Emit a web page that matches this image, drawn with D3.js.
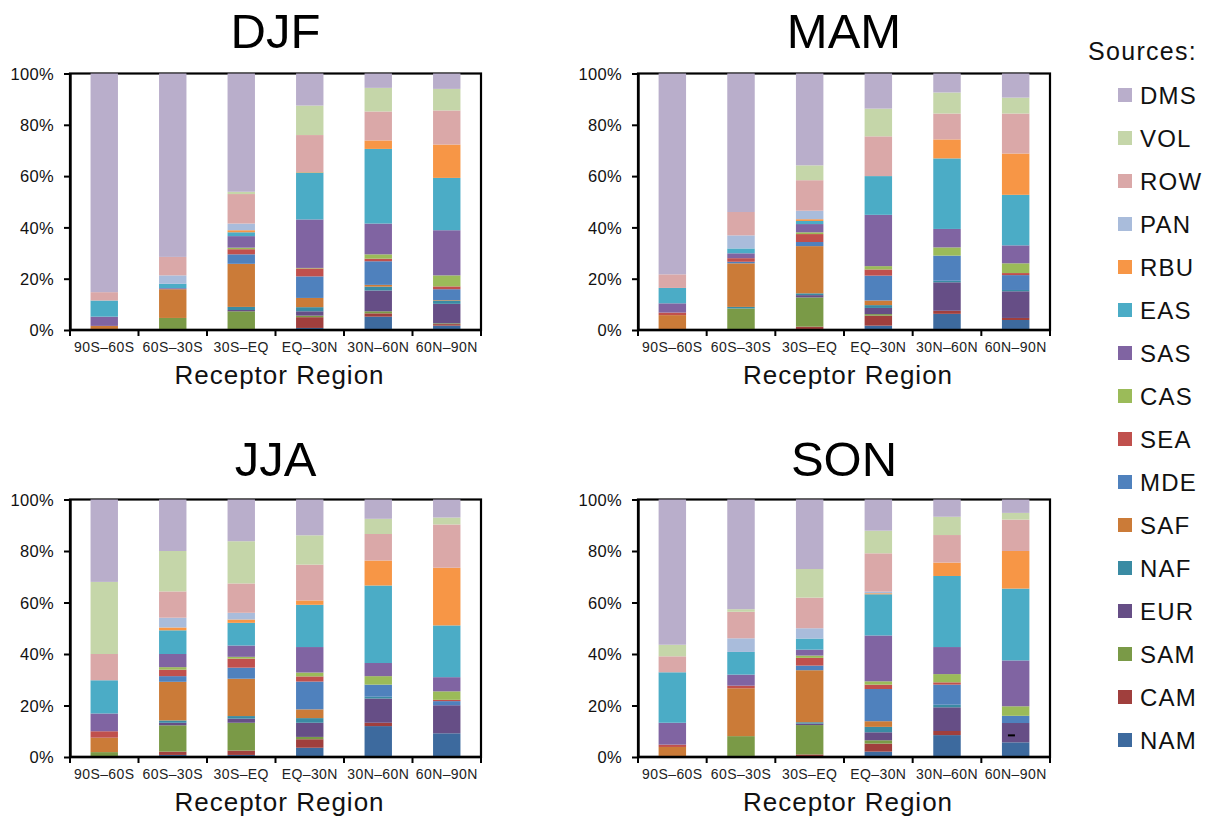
<!DOCTYPE html>
<html><head><meta charset="utf-8">
<script src="https://cdn.jsdelivr.net/npm/d3@7/dist/d3.min.js"></script>
<style>body{margin:0;background:#fff}svg{display:block;font-family:"Liberation Sans",Arial,Helvetica,sans-serif}</style>
</head><body><svg id="c" width="1211" height="823"></svg>
<script>
// Receptor regions (x categories)
const regions = ["90S–60S","60S–30S","30S–EQ","EQ–30N","30N–60N","60N–90N"];
// Source regions, bottom of stack to top
const sources = ["NAM","CAM","SAM","EUR","NAF","SAF","MDE","SEA","CAS","SAS","EAS","RBU","PAN","ROW","VOL","DMS"];
const sourceColors = ["#3d6a9e","#a03f3d","#7a9a47","#664e86","#3a8ba3","#cb7b38","#4f81bd","#c0504d","#9bbb59","#8064a2","#4bacc6","#f79646","#a9bcdb","#daa8a8","#c5d6a9","#b9aecb"];
const yTicks = [0,20,40,60,80,100];

// Percent contributions, one row per receptor region, columns in `sources` order
const DJF = [
  [0,0,0,0,0,1.6,0,0,0,3.6,6.3,0,0,3.25,0,85.25],
  [0,0,4.7,0,0,11.2,0,0,0,0.4,1.7,0,3.3,7.2,0,71.5],
  [0,0,7.3,0.5,1.2,16.8,3.7,2.0,0.6,4.5,1.5,0.8,2.6,11.5,0.9,46.1],
  [0.8,4.2,0.6,1.7,1.6,3.6,8.4,3.1,0.2,18.9,18.3,0.2,0,14.4,11.5,12.5],
  [5.2,1.3,0.8,8.1,1.5,0.7,9.2,1.0,1.7,12.0,29.1,3.3,0,11.3,9.2,5.6],
  [1.7,0.6,0.3,7.6,1.3,0.2,4.2,1.1,4.3,17.6,20.4,13.0,0,13.3,8.4,6.0]
];
const MAM = [
  [0,0,0,0,0,5.8,0,1.0,0,3.6,6.0,0,0,5.3,0,78.3],
  [0,0,8.4,0,0.6,17.0,0.6,1.4,0,1.9,1.9,0,5.1,9.1,0,54.0],
  [0,1.3,11.4,0.9,0.7,18.4,1.6,3.1,0.7,3.2,1.2,0.7,3.3,11.9,5.8,35.8],
  [1.7,3.9,0.6,2.4,1.1,1.8,9.7,2.4,1.3,20.0,15.1,0,0,15.5,10.8,13.7],
  [6.3,1.2,0,11.1,0.6,0,9.8,0,3.2,7.2,27.5,7.4,0,10.1,8.2,7.4],
  [3.9,0.8,0,10.4,0.5,0,5.8,0.8,3.8,7.0,19.7,16.1,0,15.6,6.2,9.4]
];
const JJA = [
  [0,0,1.9,0,0,5.6,0,2.5,0,6.9,12.9,0,0,10.2,28.0,32.0],
  [0.8,1.3,10.2,1.0,0.9,15.0,2.2,2.5,1.0,5.1,9.2,1.1,3.8,10.2,15.7,20.0],
  [0.8,1.7,10.8,1.6,1.0,14.5,4.3,3.5,0.7,4.4,8.8,1.3,2.6,11.4,16.4,16.2],
  [3.6,3.3,0.9,5.5,1.8,3.4,10.8,2.0,1.5,9.9,16.4,1.7,0,13.9,11.4,13.9],
  [12.0,1.3,0,9.4,0.7,0,4.7,0,3.3,5.1,30.1,9.7,0,10.3,5.9,7.5],
  [9.2,0,0,10.9,0,0,1.6,0.5,3.3,5.5,20.1,22.4,0,16.8,2.7,7.0]
];
const SON = [
  [0,0,0,0,0,3.9,0,0.9,0,8.5,19.6,0,0,6.2,4.5,56.4],
  [0,0,8.1,0,0,18.6,0,1.0,0,4.3,8.8,0,5.3,10.3,1.0,42.6],
  [0,1.0,11.4,0.6,0.5,20.2,1.8,3.0,0.9,2.3,4.3,0,4.0,11.9,11.1,27.0],
  [2.1,3.1,1.3,3.1,2.1,2.2,12.5,1.7,1.3,17.8,16.0,0.4,0.6,14.9,8.8,12.1],
  [8.5,1.6,0,9.2,1.0,0,7.8,0.9,3.2,10.5,27.6,5.2,0,10.7,7.1,6.7],
  [5.7,0,0,7.5,0,0,2.8,0,3.7,17.8,27.9,14.6,0,12.2,2.6,5.2]
];
// stray dash visible in the original SON panel (value in %)
const sonDash = {region:"60N–90N", value:8.4};

const panels = [
  {name:"DJF", rows:DJF, x0:70,  x1:481,  y0:73.5, y1:330, titleY:48},
  {name:"MAM", rows:MAM, x0:638, x1:1050, y0:73.5, y1:330, titleY:48},
  {name:"JJA", rows:JJA, x0:70,  x1:481,  y0:499.5, y1:757, titleY:476},
  {name:"SON", rows:SON, x0:638, x1:1050, y0:499.5, y1:757, titleY:476}
];

const svg = d3.select("#c");
const color = d3.scaleOrdinal(sources, sourceColors);
const stack = d3.stack().keys(sources);

panels.forEach(p => {
  const g = svg.append("g");
  const x = d3.scaleBand(regions, [p.x0, p.x1]).padding(0);
  const y = d3.scaleLinear([0,100], [p.y1, p.y0]);
  const barW = x.bandwidth()*0.4;
  const table = p.rows.map((r,i) => { const o = {region: regions[i]}; sources.forEach((s,j)=>o[s]=r[j]); return o; });
  const series = stack(table);

  // frame (top & right)
  g.append("rect").attr("x",p.x0).attr("y",p.y0).attr("width",p.x1-p.x0).attr("height",p.y1-p.y0)
    .attr("fill","none").attr("stroke","#000").attr("stroke-width",2.2);

  g.selectAll("g.s").data(series).join("g").attr("fill", d=>color(d.key))
    .selectAll("rect").data(d=>d).join("rect")
    .attr("x", d => x(d.data.region) + (x.bandwidth()-barW)/2)
    .attr("width", barW)
    .attr("y", d => y(d[1]))
    .attr("height", d => Math.max(0, y(d[0]) - y(d[1])));

  // y axis
  const ya = g.append("g").attr("transform",`translate(${p.x0},0)`)
    .call(d3.axisLeft(y).tickValues(yTicks).tickFormat(d=>d+"%").tickSize(6).tickSizeOuter(0));
  ya.select(".domain").attr("stroke-width",2.4);
  ya.selectAll(".tick line").attr("stroke-width",2);
  ya.selectAll("text").attr("font-size",16.5).attr("fill","#111").attr("x",-16).attr("dy","0.35em")
    .attr("letter-spacing",0.3).attr("font-family","Liberation Sans, Arial, sans-serif");

  // x axis line + boundary ticks
  g.append("line").attr("x1",p.x0-1).attr("x2",p.x1+1).attr("y1",p.y1).attr("y2",p.y1).attr("stroke","#000").attr("stroke-width",2.4);
  const edges = regions.map(r=>x(r)).concat([p.x1]);
  g.selectAll("line.xt").data(edges).join("line").attr("class","xt")
    .attr("x1",d=>d).attr("x2",d=>d).attr("y1",p.y1).attr("y2",p.y1+6).attr("stroke","#000").attr("stroke-width",2);
  g.selectAll("text.xl").data(regions).join("text").attr("class","xl")
    .attr("x", d => x(d)+x.bandwidth()/2).attr("y", p.y1+22)
    .attr("text-anchor","middle").attr("font-size",14).attr("letter-spacing",0.4).attr("fill","#222").text(d=>d);

  g.append("text").attr("x",(p.x0+p.x1)/2+4).attr("y",p.y1+54).attr("text-anchor","middle")
    .attr("font-size",26).attr("letter-spacing",1).attr("fill","#111").text("Receptor Region");
  g.append("text").attr("x",(p.x0+p.x1)/2).attr("y",p.titleY).attr("text-anchor","middle")
    .attr("font-size",49).attr("fill","#000").text(p.name);

  if (p.name === "SON") {
    g.append("rect").attr("x", x(sonDash.region)+(x.bandwidth()-barW)/2+6).attr("y", y(sonDash.value)-1)
      .attr("width",7).attr("height",2).attr("fill","#000");
  }
});

// legend
const lg = svg.append("g");
lg.append("text").attr("x",1088).attr("y",60).attr("font-size",25).attr("letter-spacing",1.3).attr("fill","#111").text("Sources:");
const legendOrder = sources.slice().reverse();
const ly = d3.scalePoint(legendOrder, [95, 740]);
const li = lg.selectAll("g.li").data(legendOrder).join("g").attr("class","li")
  .attr("transform", d=>`translate(0,${ly(d)})`);
li.append("rect").attr("x",1118).attr("y",-7).attr("width",14).attr("height",14).attr("fill",d=>color(d));
li.append("text").attr("x",1140).attr("y",0).attr("dy","0.36em").attr("font-size",24).attr("letter-spacing",1.2).attr("fill","#111").text(d=>d);
</script></body></html>
